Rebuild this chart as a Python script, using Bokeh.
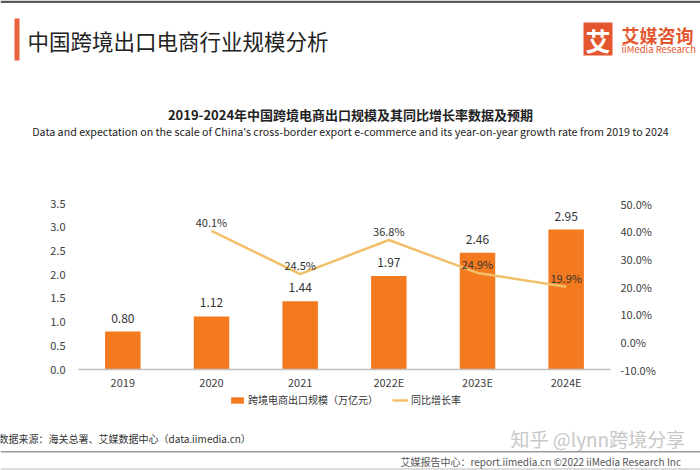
from bokeh.plotting import figure
from bokeh.layouts import column
from bokeh.models import (Range1d, FactorRange, LinearAxis, FixedTicker, PrintfTickFormatter,
                          ColumnDataSource, Label, Legend, LegendItem, BoxAnnotation)
from bokeh.core.properties import value
from bokeh.embed import file_html
from bokeh.resources import INLINE

categories = ["2019", "2020", "2021", "2022E", "2023E", "2024E"]
scale = [0.80, 1.12, 1.44, 1.97, 2.46, 2.95]
growth = [None, 40.1, 24.5, 36.8, 24.9, 19.9]
left_ticks = [0, 0.5, 1.0, 1.5, 2.0, 2.5, 3.0, 3.5]
right_ticks = [-10, 0, 10, 20, 30, 40, 50]
series_names = ["跨境电商出口规模（万亿元）", "同比增长率"]

FONT = "Noto Sans CJK SC"
BAR = "#F47A20"
LINE = "#F2C06A"
LOGO = "#E4572E"

W = 700
H_TOP, H_MID, H_BOT = 186, 206, 78
FL, FR, FT, FB = 78, 610, 203, 369  # chart frame edges (page px)


def canvas_fig(h):
    f = figure(width=W, height=h, output_backend="svg", toolbar_location=None,
               x_range=Range1d(0, W), y_range=Range1d(h, 0),
               x_axis_type=None, y_axis_type=None, min_border=0, frame_align=False)
    f.outline_line_color = None
    f.background_fill_color = "white"
    f.border_fill_color = "white"
    return f


def lab(f, text, x, y, size, color="#222222", align="left", base="middle", style="normal"):
    f.add_layout(Label(x=x, y=y, text=text, text_font=FONT, text_font_size=size,
                       text_color=color, text_align=align, text_baseline=base,
                       text_font_style=style))


def box(f, l, r, t, b, color):
    f.add_layout(BoxAnnotation(left=l, right=r, top=t, bottom=b, fill_color=color,
                               fill_alpha=1, line_color=None))


# ---------------- header ----------------
top = canvas_fig(H_TOP)
box(top, 0, W, 0, 2.5, "#5A5A5A")
box(top, 14, 19, 18, 60, "#E8603C")
lab(top, "中国跨境出口电商行业规模分析", 27, 40, "21.5px", "#222222")
box(top, 583, 612, 22, 55, LOGO)
lab(top, "艾", 597.5, 39, "25px", "white", align="center", style="bold")
lab(top, "艾媒咨询", 621, 34, "18px", LOGO, style="bold")
lab(top, "iiMedia Research", 621, 48, "9.5px", LOGO)
lab(top, "2019-2024年中国跨境电商出口规模及其同比增长率数据及预期", 350, 114, "13px",
    "#222222", align="center", style="bold")
lab(top, "Data and expectation on the scale of China's cross-border export e-commerce and its "
    "year-on-year growth rate from 2019 to 2024", 350, 131, "10.7px", "#222222", align="center")

# ---------------- chart ----------------
p = figure(width=W, height=H_MID, output_backend="svg", toolbar_location=None,
           x_range=FactorRange(*categories, range_padding=0),
           y_range=Range1d(0, 3.5), frame_align=False,
           min_border_left=FL, min_border_right=W - FR,
           min_border_top=FT - H_TOP, min_border_bottom=H_TOP + H_MID - FB)
p.extra_y_ranges = {"pct": Range1d(-10, 50)}
p.outline_line_color = None
p.grid.grid_line_color = None
p.background_fill_color = "white"
p.border_fill_color = "white"

bar_src = ColumnDataSource(dict(cat=categories, val=scale,
                                lbl=["%.2f" % v for v in scale]))
p.vbar(x="cat", top="val", width=0.4, source=bar_src, fill_color=BAR, line_color=None)
p.text(x="cat", y="val", text="lbl", source=bar_src, text_align="center",
       text_baseline="bottom", y_offset=-9, text_font=value(FONT),
       text_font_size="12px", text_color="#333333")

gc = [c for c, g in zip(categories, growth) if g is not None]
gv = [g for g in growth if g is not None]
line_src = ColumnDataSource(dict(cat=gc, val=gv, lbl=["%.1f%%" % g for g in gv]))
p.line(x="cat", y="val", source=line_src, y_range_name="pct", line_color=LINE, line_width=2.5)
p.text(x="cat", y="val", text="lbl", source=line_src, y_range_name="pct",
       text_align="center", text_baseline="bottom", y_offset=-1,
       text_font=value(FONT), text_font_size="11px", text_color="#333333")


def style_axis(a, standoff):
    a.axis_line_color = None
    a.major_tick_line_color = None
    a.minor_tick_line_color = None
    a.major_tick_out = 0
    a.major_tick_in = 0
    a.minor_tick_out = 0
    a.minor_tick_in = 0
    a.major_label_standoff = standoff
    a.major_label_text_font = FONT
    a.major_label_text_font_size = "11px"
    a.major_label_text_color = "#404040"


xa = p.xaxis[0]
style_axis(xa, 4)
xa.axis_line_color = "#BFBFBF"
xa.axis_line_width = 1.5

ya = p.yaxis[0]
style_axis(ya, 13)
ya.ticker = FixedTicker(ticks=left_ticks)
ya.formatter = PrintfTickFormatter(format="%.1f")

ra = LinearAxis(y_range_name="pct", ticker=FixedTicker(ticks=right_ticks),
                formatter=PrintfTickFormatter(format="%.1f%%"))
style_axis(ra, 10)
p.add_layout(ra, "right")

# ---------------- footer ----------------
bot = canvas_fig(H_BOT)
# legend swatches (kept outside the visible area; only their legend glyphs show)
r_bar = bot.vbar(x=[-100], top=[-100], width=1, fill_color=BAR, line_color=None)
r_line = bot.line(x=[-120, -110], y=[-100, -100], line_color=LINE, line_width=2.5)
legend = Legend(items=[LegendItem(label=series_names[0], renderers=[r_bar]),
                       LegendItem(label=series_names[1], renderers=[r_line])],
                orientation="horizontal", location=(229, 63),
                label_text_font=FONT, label_text_font_size="10px",
                label_text_color="#333333", glyph_width=16, glyph_height=8,
                label_height=10, label_standoff=3, spacing=14, padding=0, margin=0,
                border_line_color=None, background_fill_alpha=0)
bot.add_layout(legend)

Y0 = H_TOP + H_MID
lab(bot, "数据来源：海关总署、艾媒数据中心（data.iimedia.cn）", -2, 438 - Y0, "10px", "#333333")
lab(bot, "知乎 @lynn跨境分享", 510, 438 - Y0, "19px", "#C8C8C8")
box(bot, 0, W, 450.5 - Y0, 452 - Y0, "#9A9A9A")
box(bot, 0, W, 468 - Y0, 469 - Y0, "#BBBBBB")
lab(bot, "艾媒报告中心：report.iimedia.cn   ©2022  iiMedia Research Inc", 400, 461 - Y0,
    "10px", "#555555")

layout = column(top, p, bot, spacing=0)
open("out.html", "w").write(file_html(layout, INLINE))
